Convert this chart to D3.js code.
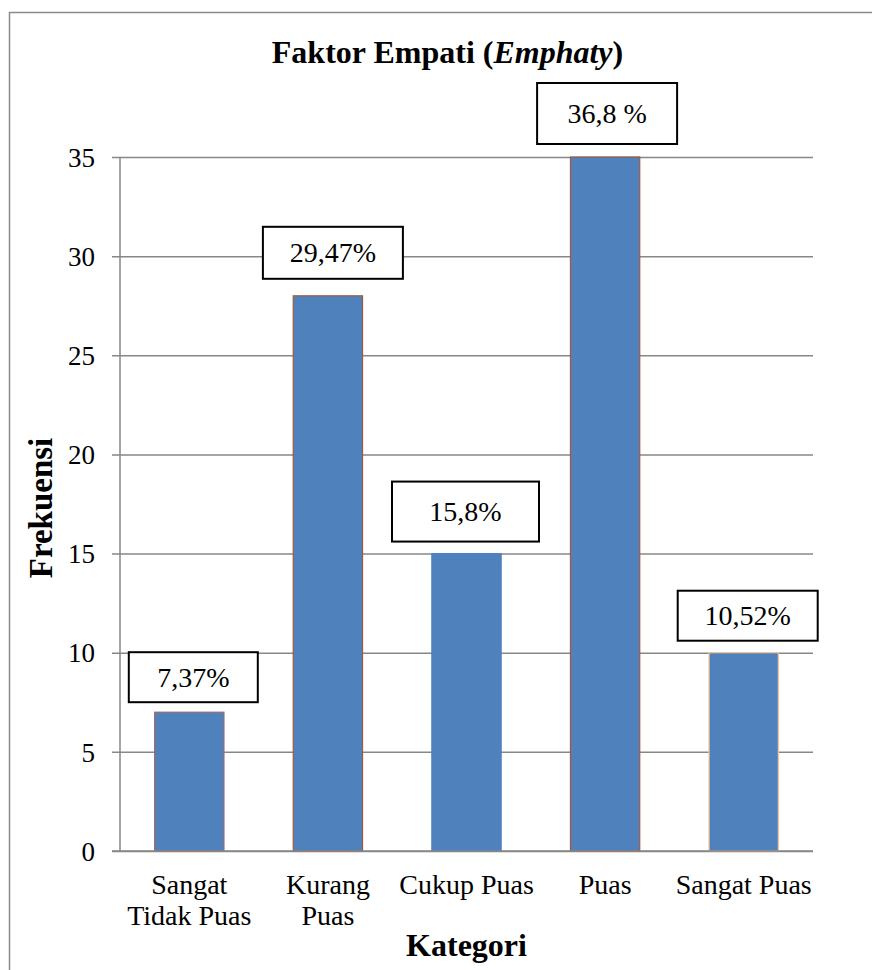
<!DOCTYPE html>
<html>
<head>
<meta charset="utf-8">
<script src="https://cdn.jsdelivr.net/npm/d3@7"></script>
<style>
  html, body { margin: 0; padding: 0; background: #fff; }
  svg { display: block; }
</style>
</head>
<body>
<svg id="chart" width="872" height="970"></svg>
<script>
// ---- data ----
const categories = [["Sangat", "Tidak Puas"], ["Kurang", "Puas"], ["Cukup Puas"], ["Puas"], ["Sangat Puas"]];
const frequencies = [7, 28, 15, 35, 10];
const percentLabels = ["7,37%", "29,47%", "15,8%", "36,8 %", "10,52%"];
const yTicks = [0, 5, 10, 15, 20, 25, 30, 35];
const titleMain = "Faktor Empati (";
const titleItalic = "Emphaty";
const titleEnd = ")";
const yTitle = "Frekuensi";
const xTitle = "Kategori";

// ---- styles / layout (not data) ----
const FONT = "Liberation Serif";
const barStroke = ["#9a6a6a", "#a0583f", "#4f81bd", "#a0583f", "#f3c396"];
const boxLayout = [
  { dx: 4, w: 129, h: 50, gap: 10 },
  { dx: 5, w: 140, h: 52, gap: 17 },
  { dx: -1, w: 147, h: 60, gap: 12 },
  { dx: 2, w: 140, h: 61, gap: 13 },
  { dx: 4, w: 140, h: 50, gap: 12 }
];

const svg = d3.select("#chart").attr("font-family", FONT);
const margin = { left: 120, top: 157, right: 872 - 813, bottom: 970 - 851 };
const W = 872 - margin.left - margin.right;
const H = 970 - margin.top - margin.bottom;

// outer border
svg.append("rect")
  .attr("x", 9.5).attr("y", 12.5).attr("width", 1000).attr("height", 1000)
  .attr("fill", "none").attr("stroke", "#8a8a8a").attr("stroke-width", 1.5);

const g = svg.append("g").attr("transform", `translate(${margin.left},${margin.top})`);

const x = d3.scaleBand().domain(d3.range(categories.length)).range([0, W]).paddingInner(0.5).paddingOuter(0.25);
const y = d3.scaleLinear().domain([0, 35]).range([H, 0]);

// gridlines + y axis
const yAxis = d3.axisLeft(y).tickValues(yTicks).tickSizeInner(-W).tickSizeOuter(0).tickPadding(0).tickFormat(d3.format("d"));
const ya = g.append("g").call(yAxis).attr("font-family", FONT).attr("font-size", 27);
ya.select(".domain").remove();
ya.selectAll(".tick line").attr("x1", -8).attr("x2", W).attr("stroke", "#878787").attr("stroke-width", 1.5);
ya.selectAll(".tick text")
  .attr("x", -25).attr("dy", "0.34em")
  .style("font-family", FONT).style("font-size", "27px").attr("fill", "#000");

// y axis line
g.append("line").attr("x1", 0).attr("x2", 0).attr("y1", 0).attr("y2", H)
  .attr("stroke", "#878787").attr("stroke-width", 1.5);

// bars
g.selectAll("rect.bar").data(frequencies).join("rect")
  .attr("class", "bar")
  .attr("x", (d, i) => x(i))
  .attr("y", d => y(d))
  .attr("width", x.bandwidth())
  .attr("height", d => H - y(d))
  .attr("fill", "#4f81bd")
  .attr("stroke", (d, i) => barStroke[i])
  .attr("stroke-width", 1.2);

// x axis baseline drawn over bars
g.append("line").attr("x1", -8).attr("x2", W).attr("y1", H).attr("y2", H)
  .attr("stroke", "#878787").attr("stroke-width", 1.5);

// value label boxes
const lbl = g.selectAll("g.lbl").data(frequencies).join("g").attr("class", "lbl")
  .attr("transform", (d, i) => {
    const L = boxLayout[i];
    const cx = x(i) + x.bandwidth() / 2 + L.dx;
    const bottom = y(d) - L.gap;
    return `translate(${cx},${bottom - L.h / 2})`;
  });
lbl.append("rect")
  .attr("x", (d, i) => -boxLayout[i].w / 2)
  .attr("y", (d, i) => -boxLayout[i].h / 2)
  .attr("width", (d, i) => boxLayout[i].w)
  .attr("height", (d, i) => boxLayout[i].h)
  .attr("fill", "#fff").attr("stroke", "#000").attr("stroke-width", 2);
lbl.append("text")
  .attr("text-anchor", "middle").attr("dy", "0.34em")
  .style("font-family", FONT).style("font-size", "28px")
  .text((d, i) => percentLabels[i]);

// category labels
const cat = g.selectAll("text.cat").data(categories).join("text").attr("class", "cat")
  .attr("text-anchor", "middle")
  .attr("x", (d, i) => x(i) + x.bandwidth() / 2)
  .attr("y", 894 - margin.top)
  .style("font-family", FONT).style("font-size", "28px");
cat.selectAll("tspan").data(d => d).join("tspan")
  .attr("x", function () { return this.parentNode.getAttribute("x"); })
  .attr("dy", (d, i) => i === 0 ? 0 : 31)
  .text(d => d);

// title
const t = svg.append("text").attr("x", margin.left + W / 2 - 19).attr("y", 63)
  .attr("text-anchor", "middle")
  .style("font-family", FONT).style("font-size", "32px").style("font-weight", "bold");
t.append("tspan").text(titleMain);
t.append("tspan").style("font-style", "italic").text(titleItalic);
t.append("tspan").text(titleEnd);

// axis titles
svg.append("text").attr("x", margin.left + W / 2).attr("y", 956)
  .attr("text-anchor", "middle")
  .style("font-family", FONT).style("font-size", "32px").style("font-weight", "bold")
  .text(xTitle);
svg.append("text").attr("transform", `translate(52,${508}) rotate(-90)`)
  .attr("text-anchor", "middle")
  .style("font-family", FONT).style("font-size", "33px").style("font-weight", "bold")
  .text(yTitle);
</script>
</body>
</html>
